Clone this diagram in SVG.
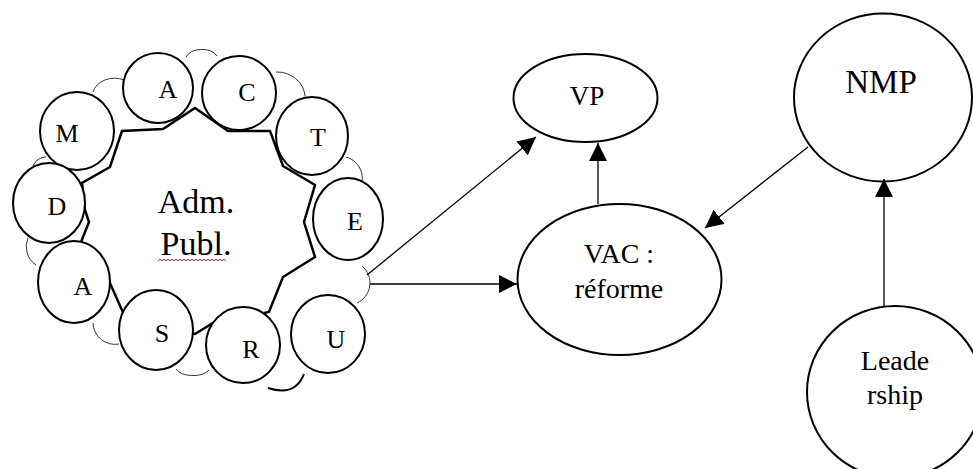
<svg xmlns="http://www.w3.org/2000/svg" width="973" height="469" viewBox="0 0 973 469">
<defs>
<marker id="arr" viewBox="0 0 18 18" refX="18" refY="9" markerWidth="18" markerHeight="18" orient="auto" markerUnits="userSpaceOnUse">
<path d="M0,0 L18,9 L0,18 z" fill="#000"/>
</marker>
<style>
.bub{fill:#fff;stroke:#000;stroke-width:2}
.node{fill:#fff;stroke:#000;stroke-width:2}
.cloud{fill:none;stroke:#333;stroke-width:1}
.t{font-family:"Liberation Serif",serif;fill:#000;text-anchor:middle}
.lt{font-size:26px}
.conn{fill:none;stroke:#000;stroke-width:1.3;marker-end:url(#arr)}
</style>
</defs>
<rect width="973" height="469" fill="#fff"/>
<g id="adm-cloud">
<g id="cloud-arcs">
<path class="cloud" d="M186,57 A17,12 0 0 1 217,56"/>
<path class="cloud" d="M93,92 A22,18 0 0 1 124,80"/>
<path class="cloud" d="M276,72 A28,26 0 0 1 305,96"/>
<path class="cloud" d="M346,157 A22,22 0 0 1 362,182"/>
<path class="cloud" d="M362,266 A22,22 0 0 1 357,303"/>
<path class="cloud" d="M176,369 A18,10 0 0 0 209,370"/>
<path class="cloud" d="M93,323 A22,22 0 0 0 119,344"/>
<path class="cloud" d="M36,265 A22,22 0 0 1 28,238"/>
<path class="cloud" d="M33,166 A14,14 0 0 1 46,157"/>
<path d="M268,388 Q295,397 304,374" fill="none" stroke="#000" stroke-width="2"/>
</g>
<polygon points="195,108 228,131 270,131 283,166 315,185 304,222 315,257 283,277 269,312 213,323 195,334 125,317 110,283 81,242 89,222 85,210 82,183 110,167 122,131 163,129" fill="#fff" stroke="#000" stroke-width="2.5" stroke-linejoin="miter"/>
<text class="t" x="196" y="213" font-size="34">Adm.</text>
<text class="t" x="196" y="255" font-size="34">Publ.</text>
<path d="M158,261 l2,-2 l2,2 l2,-2 l2,2 l2,-2 l2,2 l2,-2 l2,2 l2,-2 l2,2 l2,-2 l2,2 l2,-2 l2,2 l2,-2 l2,2 l2,-2 l2,2 l2,-2 l2,2 l2,-2 l2,2 l2,-2 l2,2 l2,-2 l2,2 l2,-2 l2,2 l2,-2 l2,2 l2,-2 l2,2 l2,-2 l2,2" fill="none" stroke="#e03030" stroke-width="1"/>
</g>
<g id="letter-A1"><ellipse class="bub" cx="158" cy="88" rx="35" ry="35"/><text class="t lt" x="168" y="98">A</text></g>
<g id="letter-C"><ellipse class="bub" cx="239" cy="93" rx="37" ry="37"/><text class="t lt" x="247" y="101">C</text></g>
<g id="letter-M"><ellipse class="bub" cx="77" cy="131" rx="37" ry="39"/><text class="t lt" x="67" y="142">M</text></g>
<g id="letter-T"><ellipse class="bub" cx="312" cy="136" rx="36" ry="39"/><text class="t lt" x="318" y="146">T</text></g>
<g id="letter-D"><ellipse class="bub" cx="49" cy="203" rx="36" ry="40"/><text class="t lt" x="57" y="215">D</text></g>
<g id="letter-E"><ellipse class="bub" cx="348" cy="219" rx="35" ry="41"/><text class="t lt" x="355" y="230">E</text></g>
<g id="letter-A2"><ellipse class="bub" cx="74" cy="282" rx="36" ry="41"/><text class="t lt" x="83" y="295">A</text></g>
<g id="letter-S"><ellipse class="bub" cx="156" cy="330" rx="37" ry="40"/><text class="t lt" x="162" y="342">S</text></g>
<g id="letter-R"><ellipse class="bub" cx="243" cy="345" rx="37" ry="38"/><text class="t lt" x="251" y="358">R</text></g>
<g id="letter-U"><ellipse class="bub" cx="328" cy="334" rx="37" ry="39"/><text class="t lt" x="336" y="348">U</text></g>
<g id="vp"><ellipse class="node" cx="585.5" cy="98" rx="72" ry="44"/><text class="t" x="587" y="105" font-size="27">VP</text></g>
<g id="vac"><ellipse class="node" cx="619.5" cy="279.5" rx="102" ry="75.5"/><text class="t" x="619" y="263" font-size="28">VAC :</text><text class="t" x="619" y="298" font-size="28">réforme</text></g>
<g id="nmp"><ellipse class="node" cx="883" cy="97.5" rx="89" ry="84"/><text class="t" x="881" y="93" font-size="33">NMP</text></g>
<g id="leadership"><ellipse class="node" cx="895" cy="392" rx="88" ry="86"/><text class="t" x="895" y="370" font-size="28">Leade</text><text class="t" x="895" y="404" font-size="28">rship</text></g>
<g id="connectors">
<path class="conn" d="M884,306 L884,179"/>
<path class="conn" d="M808,147 L705,228"/>
<path class="conn" d="M598,204 L598,143"/>
<path class="conn" d="M367,275 L536,137"/>
<path class="conn" d="M370,284 L517,284"/>
</g>
</svg>
